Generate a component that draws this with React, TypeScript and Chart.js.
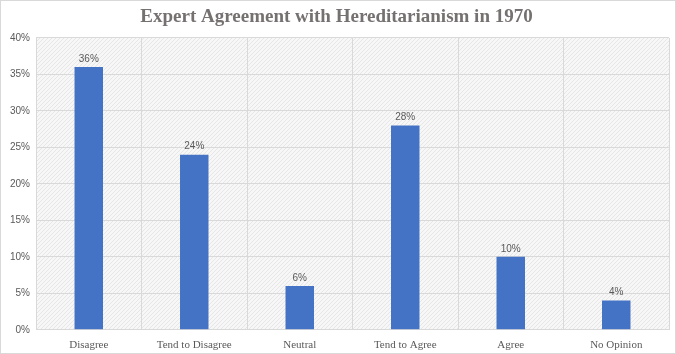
import React, { useEffect, useRef } from "react";
import { Chart, registerables } from "chart.js";

Chart.register(...registerables);

const categories = ["Disagree", "Tend to Disagree", "Neutral", "Tend to Agree", "Agree", "No Opinion"];
const values = [36, 24, 6, 28, 10, 4];
const titleText = "Expert Agreement with Hereditarianism in 1970";

function makePattern(): CanvasPattern | string {
  const c = document.createElement("canvas");
  c.width = 4;
  c.height = 4;
  const g = c.getContext("2d");
  if (!g) return "#f4f4f4";
  g.fillStyle = "#f7f7f7";
  g.fillRect(0, 0, 4, 4);
  g.fillStyle = "#e6e6e6";
  g.fillRect(0, 3, 1, 1);
  g.fillRect(1, 2, 1, 1);
  g.fillRect(2, 1, 1, 1);
  g.fillRect(3, 0, 1, 1);
  const p = g.createPattern(c, "repeat");
  return p || "#f4f4f4";
}

const bgPlugin = {
  id: "hatchBg",
  beforeDraw(chart: any) {
    const { ctx, chartArea } = chart;
    ctx.save();
    ctx.fillStyle = "#ffffff";
    ctx.fillRect(0, 0, chart.width, chart.height);
    ctx.fillStyle = makePattern();
    ctx.fillRect(chartArea.left, chartArea.top, chartArea.right - chartArea.left, chartArea.bottom - chartArea.top);
    ctx.restore();
  },
};

const labelPlugin = {
  id: "barLabels",
  afterDatasetsDraw(chart: any) {
    const { ctx } = chart;
    const meta = chart.getDatasetMeta(0);
    ctx.save();
    ctx.font = "10px 'Liberation Sans', sans-serif";
    ctx.fillStyle = "#595959";
    ctx.textAlign = "center";
    ctx.textBaseline = "bottom";
    meta.data.forEach((bar: any, i: number) => {
      ctx.fillText(values[i] + "%", bar.x, bar.y - 3);
    });
    ctx.restore();
  },
};

export default function App() {
  const ref = useRef<HTMLCanvasElement | null>(null);
  useEffect(() => {
    document.body.style.margin = "0";
    if (!ref.current) return;
    const chart = new Chart(ref.current, {
      type: "bar",
      data: {
        labels: categories,
        datasets: [
          {
            data: values,
            backgroundColor: "#4472C4",
            barPercentage: 0.9,
            categoryPercentage: 0.3,
          },
        ],
      },
      options: {
        animation: false,
        responsive: false,
        maintainAspectRatio: false,
        layout: { padding: { left: 3, right: 6, top: 4, bottom: -8 } },
        plugins: {
          legend: { display: false },
          tooltip: { enabled: false },
          title: {
            display: true,
            text: titleText,
            color: "#767171",
            font: { family: "'Liberation Serif', serif", size: 19, weight: "bold", lineHeight: 1.1 },
            padding: { top: 2, bottom: 10 },
          },
        },
        scales: {
          x: {
            grid: { color: "#d9d9d9", offset: true, drawTicks: false },
            border: { color: "#d9d9d9" },
            ticks: {
              color: "#595959",
              font: { family: "'Liberation Serif', serif", size: 11 },
              padding: 9,
              maxRotation: 0,
            },
          },
          y: {
            min: 0,
            max: 40,
            grid: { color: "#d9d9d9", drawTicks: false },
            border: { display: false },
            ticks: {
              stepSize: 5,
              color: "#595959",
              font: { family: "'Liberation Sans', sans-serif", size: 10 },
              padding: 6,
              callback: (v: any) => v + "%",
            },
          },
        },
      },
      plugins: [bgPlugin, labelPlugin],
    });
    return () => chart.destroy();
  }, []);
  return (
    <div style={{ position: "relative", width: 676, height: 354, boxSizing: "border-box", border: "1px solid #d9d9d9" }}>
      <canvas ref={ref} width={674} height={352} style={{ display: "block" }} />
    </div>
  );
}
